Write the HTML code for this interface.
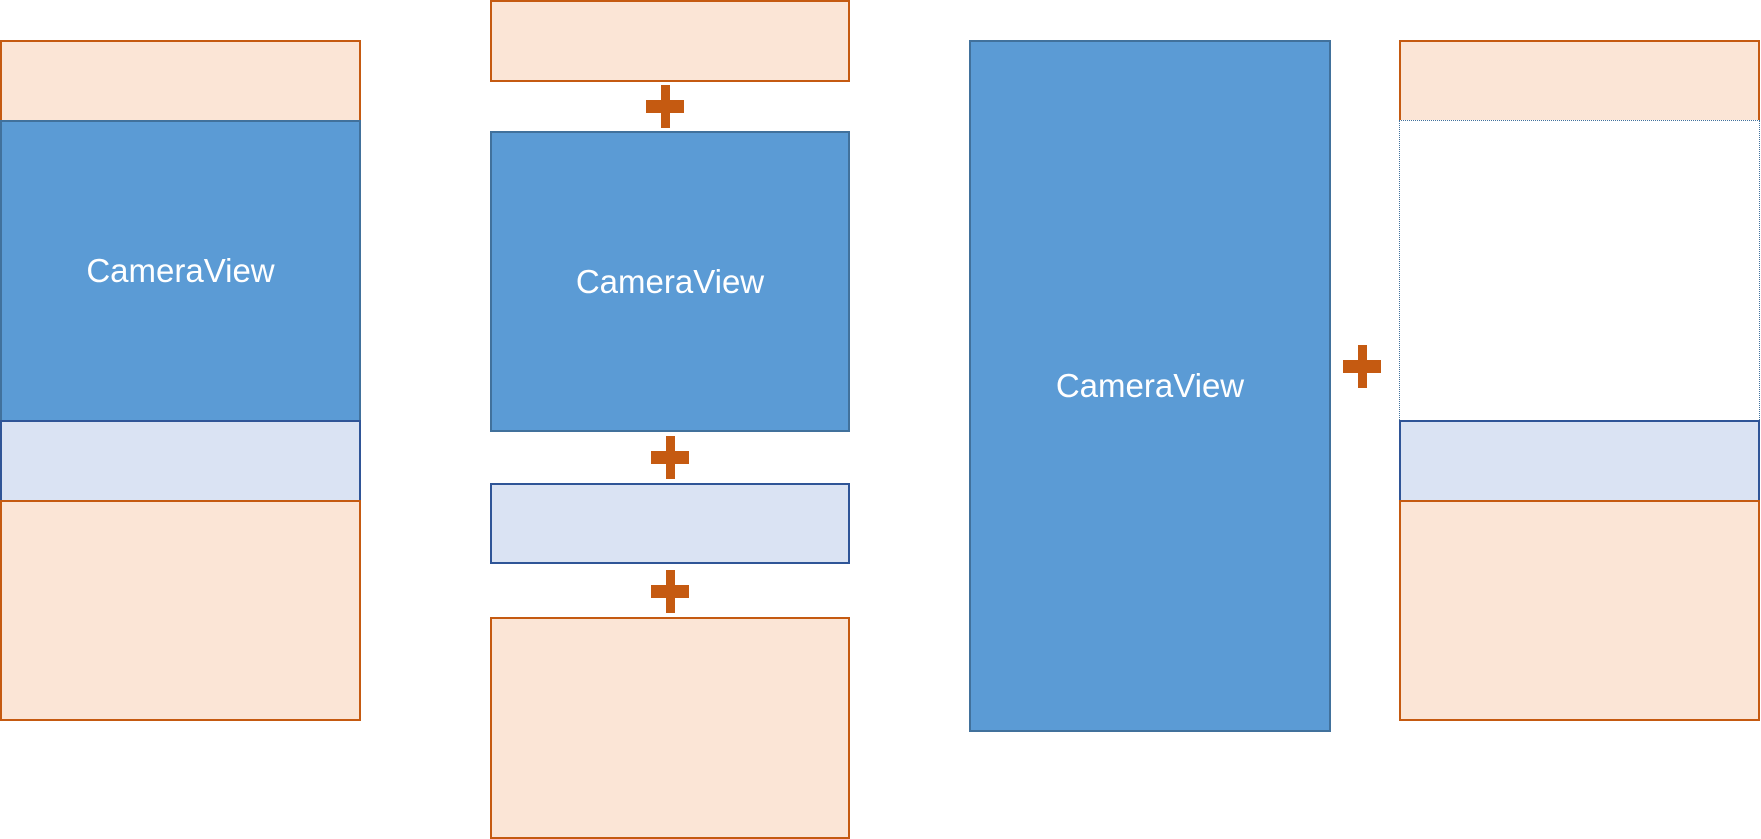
<!DOCTYPE html>
<html><head><style>
body{margin:0;width:1761px;height:839px;background:#fff;position:relative;overflow:hidden;font-family:"Liberation Sans",sans-serif}
.b{position:absolute;box-sizing:border-box}
.p{background:#FBE5D6;border:2px solid #C55A11}
.c{background:#5B9BD5;border:2px solid #41719C;color:#fff;font-size:33px;display:flex;align-items:center;justify-content:center}
.l{background:#DAE3F3;border:2px solid #2F5597}
.d{background:#fff;border:1.5px dotted #41719C}
.plus{position:absolute;width:38px;height:43px}
.plus:before{content:"";position:absolute;left:15px;top:0;width:9px;height:43px;background:#C55A11}
.plus:after{content:"";position:absolute;left:0;top:15px;width:38px;height:13px;background:#C55A11}
</style></head><body>
<!-- col1 -->
<div class="b p" style="left:0;top:40px;width:361px;height:82px"></div>
<div class="b c" style="left:0;top:120px;width:361px;height:302px">CameraView</div>
<div class="b l" style="left:0;top:420px;width:361px;height:82px"></div>
<div class="b p" style="left:0;top:500px;width:361px;height:221px"></div>
<!-- col2 -->
<div class="b p" style="left:490px;top:0px;width:360px;height:82px"></div>
<div class="plus" style="left:646px;top:85px"></div>
<div class="b c" style="left:490px;top:131px;width:360px;height:301px;padding-bottom:0">CameraView</div>
<div class="plus" style="left:651px;top:436px"></div>
<div class="b l" style="left:490px;top:483px;width:360px;height:81px"></div>
<div class="plus" style="left:651px;top:570px"></div>
<div class="b p" style="left:490px;top:617px;width:360px;height:222px"></div>
<!-- col3 -->
<div class="b c" style="left:969px;top:40px;width:362px;height:692px">CameraView</div>
<div class="plus" style="left:1343px;top:345px"></div>
<!-- col4 -->
<div class="b p" style="left:1399px;top:40px;width:361px;height:82px"></div>
<div class="b d" style="left:1399px;top:120px;width:361px;height:302px"></div>
<div class="b l" style="left:1399px;top:420px;width:361px;height:82px"></div>
<div class="b p" style="left:1399px;top:500px;width:361px;height:221px"></div>
</body></html>
